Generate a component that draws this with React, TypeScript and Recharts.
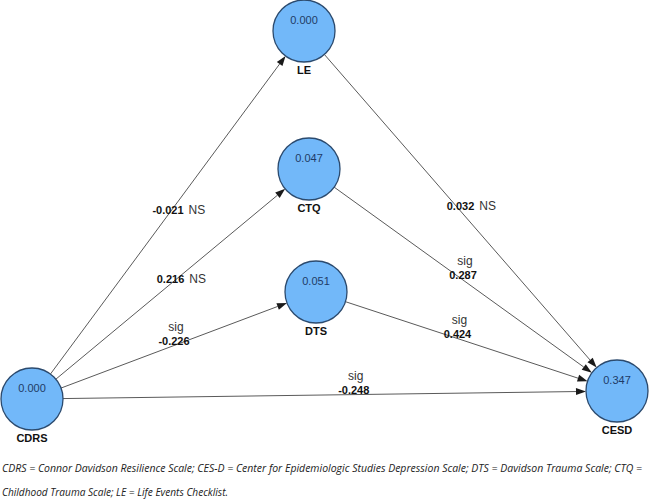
import { ScatterChart, Scatter, XAxis, YAxis, ReferenceLine } from 'recharts';

// path model: latent nodes (R² inside) and path coefficients
const nodeNames = ['CDRS', 'LE', 'CTQ', 'DTS', 'CESD'];
const nodeR2 = ['0.000', '0.000', '0.047', '0.051', '0.347'];
const nodeX = [32, 304, 309, 316, 617];
const nodeY = [399, 31, 169, 292, 391];

const edgeFrom = ['CDRS', 'CDRS', 'CDRS', 'CDRS', 'LE', 'CTQ', 'DTS'];
const edgeTo = ['LE', 'CTQ', 'DTS', 'CESD', 'CESD', 'CESD', 'CESD'];
const edgeCoef = ['-0.021', '0.216', '-0.226', '-0.248', '0.032', '0.287', '0.424'];
const edgeSig = ['NS', 'NS', 'sig', 'sig', 'NS', 'sig', 'sig'];
const edgeLabelAt = [0.5, 0.5, 0.5, 0.55, 0.5, 0.5, 0.47];

const captionLines = [
  'CDRS = Connor Davidson Resilience Scale; CES-D = Center for Epidemiologic Studies Depression Scale; DTS = Davidson Trauma Scale; CTQ =',
  'Childhood Trauma Scale; LE = Life Events Checklist.',
];

const W = 650;
const H = 500;
const R = 31;
const FONT = '"Liberation Sans", Arial, sans-serif';

const nodes = nodeNames.map((name, i) => ({ x: nodeX[i], y: nodeY[i], name, r2: nodeR2[i] }));
const idx = (n: string) => nodeNames.indexOf(n);

const edges = edgeFrom.map((f, i) => {
  const a = nodes[idx(f)];
  const b = nodes[idx(edgeTo[i])];
  const dx = b.x - a.x;
  const dy = b.y - a.y;
  const len = Math.sqrt(dx * dx + dy * dy);
  const ux = dx / len;
  const uy = dy / len;
  const t = edgeLabelAt[i];
  return {
    x1: a.x + ux * R,
    y1: a.y + uy * R,
    x2: b.x - ux * R,
    y2: b.y - uy * R,
    x: a.x + dx * t,
    y: a.y + dy * t,
    coef: edgeCoef[i],
    sig: edgeSig[i],
  };
});

const numWidth = (s: string) =>
  s.split('').reduce((w, c) => w + (c === '.' ? 3.1 : c === '-' ? 3.7 : 6.1), 0);

const ArrowLine = (props: any) => {
  const { x1, y1, x2, y2 } = props;
  const ang = Math.atan2(y2 - y1, x2 - x1);
  const L = 10;
  const hw = 3.5;
  const bx = x2 - L * Math.cos(ang);
  const by = y2 - L * Math.sin(ang);
  const px = -Math.sin(ang) * hw;
  const py = Math.cos(ang) * hw;
  return (
    <g>
      <line x1={x1} y1={y1} x2={bx} y2={by} stroke="#5a5a5a" strokeWidth={1} />
      <polygon
        points={`${x2},${y2} ${bx + px},${by + py} ${bx - px},${by - py}`}
        fill="#1a1a1a"
      />
    </g>
  );
};

const NodeShape = (props: any) => {
  const { cx, cy, payload } = props;
  return (
    <g>
      <circle cx={cx} cy={cy} r={R} fill="#72B8F9" stroke="#2b4a6e" strokeWidth={1.3} />
      <text x={cx} y={cy - 7} textAnchor="middle" fontFamily={FONT} fontSize={11} fill="#1f3b66">
        {payload.r2}
      </text>
      <text
        x={cx}
        y={cy + R + 12}
        textAnchor="middle"
        fontFamily={FONT}
        fontSize={11}
        fontWeight="bold"
        fill="#111"
      >
        {payload.name}
      </text>
    </g>
  );
};

const EdgeLabel = (props: any) => {
  const { cx, cy, payload } = props;
  const w = numWidth(payload.coef);
  const base = cy - 1;
  return (
    <g>
      <text x={cx} y={base} textAnchor="middle" fontFamily={FONT} fontSize={11} fontWeight="bold" fill="#111">
        {payload.coef}
      </text>
      {payload.sig === 'NS' ? (
        <text x={cx + w / 2 + 5} y={base} fontFamily={FONT} fontSize={12} fill="#333">
          NS
        </text>
      ) : (
        <text x={cx + 2} y={base - 14} textAnchor="middle" fontFamily={FONT} fontSize={12} fill="#333">
          sig
        </text>
      )}
    </g>
  );
};

export default function App() {
  return (
    <div style={{ position: 'absolute', left: 0, top: 0, width: W, height: H, background: '#fff' }}>
      <ScatterChart width={W} height={H} margin={{ top: 0, right: 0, bottom: 0, left: 0 }}>
        <XAxis type="number" dataKey="x" domain={[0, W]} hide allowDataOverflow />
        <YAxis type="number" dataKey="y" domain={[0, H]} reversed hide allowDataOverflow />
        {edges.map((e, i) => (
          <ReferenceLine
            key={`edge-${i}`}
            segment={[
              { x: e.x1, y: e.y1 },
              { x: e.x2, y: e.y2 },
            ]}
            ifOverflow="visible"
            shape={ArrowLine}
          />
        ))}
        <Scatter data={edges} shape={EdgeLabel} isAnimationActive={false} />
        <Scatter data={nodes} shape={NodeShape} isAnimationActive={false} />
      </ScatterChart>
      <svg width={W} height={50} style={{ position: 'absolute', left: 0, top: 450 }}>
        <text
          x={2}
          y={22}
          fontFamily='"Open Sans", sans-serif'
          fontStyle="italic"
          fontSize={10.5}
          fill="#222"
          textLength={640}
          lengthAdjust="spacingAndGlyphs"
        >
          {captionLines[0]}
        </text>
        <text
          x={2}
          y={46}
          fontFamily='"Open Sans", sans-serif'
          fontStyle="italic"
          fontSize={10.5}
          fill="#222"
          textLength={226}
          lengthAdjust="spacingAndGlyphs"
        >
          {captionLines[1]}
        </text>
      </svg>
    </div>
  );
}
